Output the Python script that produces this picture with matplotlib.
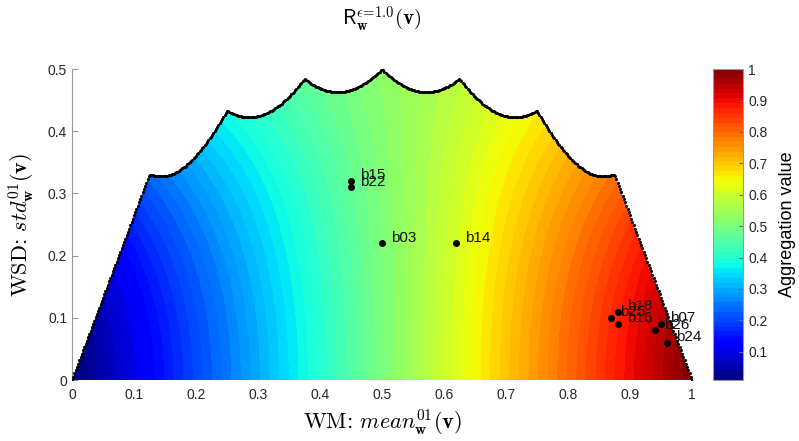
import numpy as np
import matplotlib
matplotlib.use("Agg")
import matplotlib.pyplot as plt
from matplotlib.patches import Polygon

plt.rcParams["font.family"] = ["Liberation Sans", "DejaVu Sans"]
plt.rcParams["mathtext.fontset"] = "cm"

# labelled alternatives (mean, std)
names = ["b15", "b22", "b03", "b14", "b18", "b25", "b16", "b07", "b26", "b24"]
mean_vals = [0.45, 0.45, 0.50, 0.62, 0.88, 0.87, 0.88, 0.95, 0.94, 0.96]
std_vals = [0.32, 0.31, 0.22, 0.22, 0.11, 0.10, 0.09, 0.09, 0.08, 0.06]

# number of equally weighted criteria -> shape of the feasible upper boundary
n_crit = 8
# tilt of the aggregation iso-lines with the deviation
tilt_c = 1.2
tilt_e = 0.1
v_min = 0.01

x_ticks = [0, 0.1, 0.2, 0.3, 0.4, 0.5, 0.6, 0.7, 0.8, 0.9, 1]
x_tick_labels = ["0", "0.1", "0.2", "0.3", "0.4", "0.5", "0.6", "0.7", "0.8", "0.9", "1"]
y_ticks = [0, 0.1, 0.2, 0.3, 0.4, 0.5]
y_tick_labels = ["0", "0.1", "0.2", "0.3", "0.4", "0.5"]
cb_ticks = [0.1, 0.2, 0.3, 0.4, 0.5, 0.6, 0.7, 0.8, 0.9, 1]
cb_tick_labels = ["0.1", "0.2", "0.3", "0.4", "0.5", "0.6", "0.7", "0.8", "0.9", "1"]


def max_std(m):
    # k criteria at 1, one at t, the rest at 0
    k = np.minimum(np.floor(m * n_crit), n_crit - 1)
    t = m * n_crit - k
    var = (k + t ** 2) / n_crit - m ** 2
    return np.sqrt(np.clip(var, 0, None))


def aggregation(m, s):
    return np.clip(m + tilt_c * s ** 2 * (1 - 2 * m) + tilt_e * s ** 2, v_min, 1)


bx = np.linspace(0, 1, 501)
by = max_std(bx)

gx, gy = np.meshgrid(np.linspace(0, 1, 600), np.linspace(0, 0.5, 300))
gz = aggregation(gx, gy)

fig = plt.figure(figsize=(7.99, 4.41), dpi=100)
ax = fig.add_axes([0.0901, 0.1383, 0.776, 0.705])

levels = np.linspace(v_min, 1, 65)
cf = ax.contourf(gx, gy, gz, levels=levels, cmap="jet", zorder=1)
clip = Polygon(np.column_stack([np.r_[bx, 1, 0], np.r_[by, 0, 0]]),
               closed=True, transform=ax.transData, facecolor="none", edgecolor="none")
ax.add_patch(clip)
cf.set_clip_path(clip)

ax.plot(bx, by, ".", color="black", ms=2.4, zorder=3)

ax.plot(mean_vals, std_vals, "o", color="black", ms=4, zorder=4)
for name, mx, sy in zip(names, mean_vals, std_vals):
    ax.annotate(name, (mx, sy), xytext=(6.5, 4), textcoords="offset points",
                ha="left", va="center", fontsize=11, color="#111111", zorder=5)

ax.set_xlim(0, 1)
ax.set_ylim(0, 0.5)
ax.set_xticks(x_ticks)
ax.set_xticklabels(x_tick_labels)
ax.set_yticks(y_ticks)
ax.set_yticklabels(y_tick_labels)
ax.tick_params(direction="in", length=4, labelsize=10, colors="#999999",
               labelcolor="#262626")
ax.tick_params(axis="x", length=0, pad=6)
for side in ["top", "right", "bottom"]:
    ax.spines[side].set_visible(False)
ax.spines["left"].set_color("#999999")
ax.spines["left"].set_zorder(0)

ax.set_xlabel(r"WM: $mean^{01}_{\mathbf{w}}(\mathbf{v})$", fontsize=16, labelpad=4,
              fontfamily="cmr10")
ax.set_ylabel(r"WSD: $std^{01}_{\mathbf{w}}(\mathbf{v})$", fontsize=16, labelpad=8,
              fontfamily="cmr10")
ax.set_title(r"$\mathsf{R}_{\mathbf{w}}^{\epsilon\!=\!1.0}(\mathbf{v})$", fontsize=15, pad=32)

cax = fig.add_axes([0.892, 0.1383, 0.0383, 0.705])
cb = fig.colorbar(cf, cax=cax)
cb.set_ticks(cb_ticks)
cb.set_ticklabels(cb_tick_labels)
cb.outline.set_edgecolor("#999999")
cax.tick_params(direction="in", length=3, labelsize=10, colors="#666666",
                labelcolor="#262626")
cb.set_label("Aggregation value", fontsize=13, labelpad=8)

fig.savefig("out.png", dpi=100)
